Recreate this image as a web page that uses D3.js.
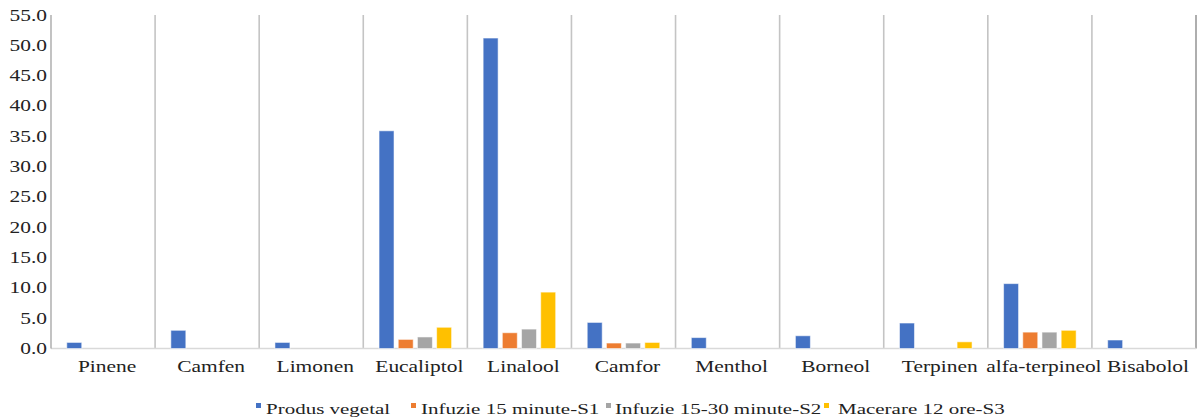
<!DOCTYPE html>
<html>
<head>
<meta charset="utf-8">
<script src="https://cdn.jsdelivr.net/npm/d3@7"></script>
<style>
  html, body { margin: 0; padding: 0; background: #fff; }
  svg { display: block; }
  text { font-family: "Liberation Serif", "Times New Roman", serif; fill: #222; }
</style>
</head>
<body>
<svg id="chart" width="1197" height="419"></svg>
<script>
const categories = ["Pinene", "Camfen", "Limonen", "Eucaliptol", "Linalool", "Camfor", "Menthol", "Borneol", "Terpinen", "alfa-terpineol", "Bisabolol"];
const seriesNames = ["Produs vegetal", "Infuzie 15 minute-S1", "Infuzie 15-30 minute-S2", "Macerare 12 ore-S3"];
const produsVegetal = [1.0, 3.0, 1.0, 35.9, 51.2, 4.3, 1.8, 2.1, 4.2, 10.7, 1.4];
const infuzie15 = [0, 0, 0, 1.5, 2.6, 0.9, 0, 0, 0, 2.7, 0];
const infuzie1530 = [0, 0, 0, 1.9, 3.2, 0.9, 0, 0, 0, 2.7, 0];
const macerare12 = [0, 0, 0, 3.5, 9.3, 1.0, 0, 0, 1.1, 3.0, 0];
const yTicks = [0, 5, 10, 15, 20, 25, 30, 35, 40, 45, 50, 55];
const colors = ["#4472C4", "#ED7D31", "#A5A5A5", "#FFC000"];

(function () {
const seriesValues = [produsVegetal, infuzie15, infuzie1530, macerare12];
const data = categories.map((c, i) => ({ cat: c, vals: seriesValues.map(s => s[i]) }));

const svg = d3.select("#chart");
const mLeft = 51, mRight = 1196, mTop = 15, mBottom = 348.5;
const stretch = 1.34;

const x0 = d3.scaleBand().domain(categories).range([mLeft, mRight]).paddingInner(0).paddingOuter(0);
const bw = x0.bandwidth();
const groupW = bw * 0.697;
const x1 = d3.scaleBand().domain(d3.range(seriesNames.length))
  .range([(bw - groupW) / 2, (bw + groupW) / 2]).paddingInner(0.22).paddingOuter(0);
const y = d3.scaleLinear().domain([0, 55]).range([mBottom, mTop]);

// vertical category separators
svg.append("g").selectAll("line")
  .data(categories)
  .join("line")
  .attr("x1", d => x0(d) + bw)
  .attr("x2", d => x0(d) + bw)
  .attr("y1", mTop).attr("y2", mBottom)
  .attr("stroke", (d, i) => i === categories.length - 1 ? "#9a9a9a" : "#c4c4c4")
  .attr("stroke-width", 1.6);

// baseline
svg.append("line").attr("x1", mLeft).attr("x2", mRight)
  .attr("y1", y(0)).attr("y2", y(0))
  .attr("stroke", "#d9d9d9").attr("stroke-width", 1.5);

// left axis line
svg.append("line").attr("x1", mLeft).attr("x2", mLeft)
  .attr("y1", mTop).attr("y2", mBottom)
  .attr("stroke", "#9a9a9a").attr("stroke-width", 1.2);

// y tick labels
svg.append("g").selectAll("text").data(yTicks).join("text")
  .attr("transform", d => `translate(47,${y(d) + 5.5}) scale(${stretch},1)`)
  .attr("text-anchor", "end")
  .attr("font-size", 16)
  .text(d => d3.format(".1f")(d));

// bars
const groups = svg.append("g").selectAll("g").data(data).join("g")
  .attr("transform", d => `translate(${x0(d.cat)},0)`);
groups.selectAll("rect")
  .data(d => d.vals.map((v, k) => ({ v, k })).filter(o => o.v > 0))
  .join("rect")
  .attr("x", o => x1(o.k))
  .attr("width", x1.bandwidth())
  .attr("y", o => y(o.v))
  .attr("height", o => y(0) - y(o.v))
  .attr("fill", o => colors[o.k])
  .attr("stroke", "#ffffff").attr("stroke-opacity", 0.55).attr("stroke-width", 1);

// category labels
svg.append("g").selectAll("text").data(categories).join("text")
  .attr("transform", d => `translate(${x0(d) + bw / 2 + 4},372) scale(${stretch},1)`)
  .attr("text-anchor", "middle")
  .attr("font-size", 16)
  .text(d => d);

// legend
const legendX = [256, 411, 606, 824];
const legendTextOff = [10, 10, 9, 14];
const lg = svg.append("g").selectAll("g").data(seriesNames).join("g")
  .attr("transform", (d, i) => `translate(${legendX[i]},0)`);
lg.append("rect").attr("x", 0).attr("y", 403).attr("width", 5).attr("height", 5)
  .attr("fill", (d, i) => colors[i]);
lg.append("text")
  .attr("transform", (d, i) => `translate(${legendTextOff[i]},413.5) scale(1.4,1)`)
  .attr("font-size", 15)
  .text(d => d);
})();
</script>
</body>
</html>
